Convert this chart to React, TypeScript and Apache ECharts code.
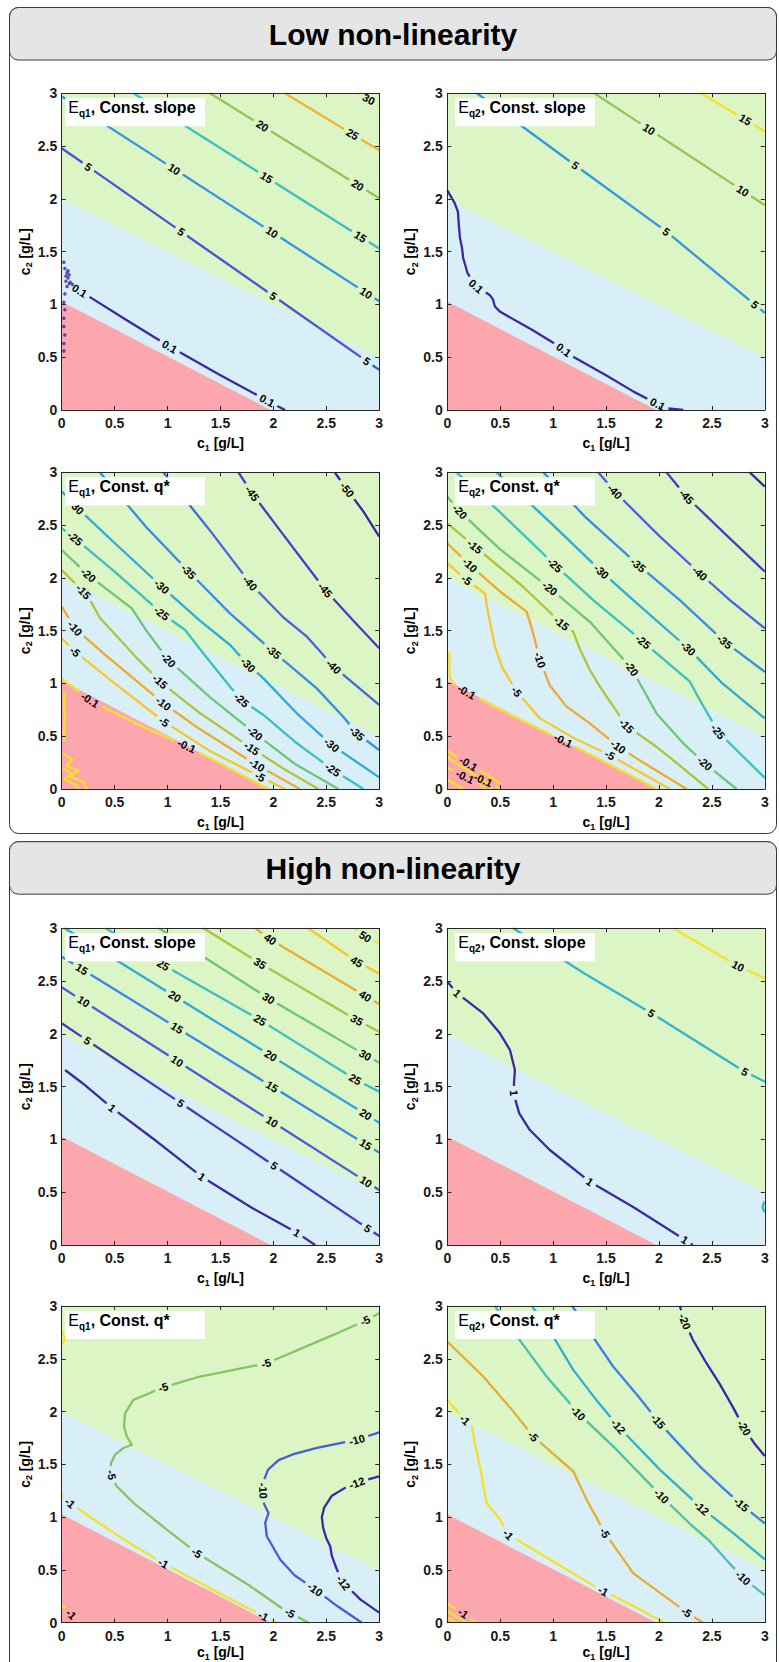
import React, { useEffect, useRef } from 'react';
import * as echarts from 'echarts';

type P = [number, number];
type Contour = { level: number; pts: P[]; labels: P[] };

const FONT = '"Liberation Sans", Arial, Helvetica, sans-serif';

// ---------- texts ----------
const PANEL_TITLES = ['Low non-linearity', 'High non-linearity'];
const PLOT_SUBS = ['q1', 'q2', 'q1', 'q2', 'q1', 'q2', 'q1', 'q2'];
const PLOT_TAILS = [', Const. slope', ', Const. slope', ', Const. q*', ', Const. q*', ', Const. slope', ', Const. slope', ', Const. q*', ', Const. q*'];
const X_LABEL_PARTS = ['c', '1', ' [g/L]'];
const Y_LABEL_PARTS = ['c', '2', ' [g/L]'];
const TICK_VALUES = [0, 0.5, 1, 1.5, 2, 2.5, 3];
const TICK_LABELS = ['0', '0.5', '1', '1.5', '2', '2.5', '3'];

// ---------- background regions (c1, c2) ----------
const REGION_PINK: P[] = [[0, 0], [0, 1.03], [1.98, 0]];
const REGION_BLUE: P[] = [[0, 1.03], [0, 2.0], [3, 0.5], [3, 0], [1.98, 0]];
const REGION_GREEN: P[] = [[0, 2.0], [0, 3], [3, 3], [3, 0.5]];

// ---------- Low non-linearity ----------
const P1_CONTOURS: Contour[] = [
  { level: 0.1, pts: [[0.06, 1.2], [0.17, 1.13], [0.6, 0.86], [1.02, 0.6], [1.5, 0.33], [1.94, 0.09], [2.11, 0]], labels: [[0.17, 1.13], [1.02, 0.6], [1.94, 0.09]] },
  { level: 5, pts: [[0, 2.48], [1.5, 1.43], [3, 0.38]], labels: [[0.25, 2.3], [1.13, 1.69], [2.0, 1.08], [2.88, 0.46]] },
  { level: 10, pts: [[0, 2.97], [1.5, 2.0], [3, 1.03]], labels: [[1.056, 2.27], [1.99, 1.69], [2.87, 1.1]] },
  { level: 15, pts: [[0.68, 3], [3, 1.53]], labels: [[1.94, 2.21], [2.82, 1.64]] },
  { level: 20, pts: [[1.4, 3], [3, 2.005]], labels: [[1.89, 2.68], [2.79, 2.12]] },
  { level: 25, pts: [[2.11, 3], [3, 2.46]], labels: [[2.74, 2.6]] },
  { level: 30, pts: [[2.8, 3], [3, 2.89]], labels: [[2.9, 2.94]] },
];
const P1_DOTS: P[] = [[0.02, 0.56], [0.02, 0.63], [0.03, 0.71], [0.02, 0.79], [0.02, 0.87], [0.03, 0.95], [0.02, 1.02], [0.03, 1.1], [0.05, 1.17], [0.04, 1.22], [0.06, 1.25], [0.08, 1.21], [0.1, 1.19], [0.05, 1.3], [0.03, 1.34], [0.02, 1.4], [0.07, 1.28], [0.04, 1.27], [0.06, 1.32]];

const P2_CONTOURS: Contour[] = [
  { level: 0.1, pts: [[0, 2.08], [0.07, 1.96], [0.1, 1.88], [0.11, 1.74], [0.12, 1.63], [0.14, 1.53], [0.15, 1.44], [0.19, 1.3], [0.26, 1.18], [0.4, 1.09], [0.43, 1.05], [0.45, 0.98], [0.5, 0.93], [0.8, 0.76], [1.06, 0.6], [1.19, 0.505], [1.5, 0.33], [1.76, 0.174], [1.91, 0.095], [2.07, 0.016], [2.23, 0]], labels: [[0.27, 1.17], [1.1, 0.57], [1.99, 0.06]] },
  { level: 5, pts: [[0.28, 3], [1.22, 2.31], [2.07, 1.69], [3, 0.92]], labels: [[1.22, 2.33], [2.07, 1.69], [2.9, 0.99]] },
  { level: 10, pts: [[1.39, 3], [3, 1.94]], labels: [[1.9, 2.65], [2.78, 2.06]] },
  { level: 15, pts: [[2.4, 3], [3, 2.64]], labels: [[2.81, 2.74]] },
];

const P3_CONTOURS: Contour[] = [
  { level: -50, pts: [[2.58, 3], [2.7, 2.83], [2.85, 2.63], [3, 2.39]], labels: [[2.69, 2.83]] },
  { level: -45, pts: [[1.67, 3], [1.8, 2.8], [2.1, 2.4], [2.49, 1.885], [2.75, 1.6], [3, 1.333]], labels: [[1.8, 2.8], [2.49, 1.885]] },
  { level: -40, pts: [[0.96, 3], [1.4, 2.45], [1.78, 1.95], [2.1, 1.62], [2.32, 1.44], [2.57, 1.159], [3, 0.796]], labels: [[1.78, 1.95], [2.57, 1.159]] },
  { level: -35, pts: [[0.36, 3], [0.8, 2.48], [1.2, 2.06], [1.59, 1.664], [2.0, 1.3], [2.41, 0.953], [2.66, 0.685], [2.79, 0.527], [3, 0.369]], labels: [[1.2, 2.06], [2.0, 1.3], [2.79, 0.527]] },
  { level: -30, pts: [[0, 2.82], [0.14, 2.67], [0.5, 2.33], [0.945, 1.917], [1.3, 1.6], [1.591, 1.364], [1.764, 1.174], [1.906, 1.048], [2.221, 0.717], [2.552, 0.417], [3, 0.11]], labels: [[0.14, 2.67], [0.945, 1.917], [1.765, 1.18], [2.553, 0.42]] },
  { level: -25, pts: [[0, 2.47], [0.126, 2.374], [0.5, 2.06], [0.945, 1.664], [1.166, 1.506], [1.35, 1.27], [1.591, 0.969], [1.701, 0.843], [1.906, 0.701], [2.2, 0.45], [2.567, 0.18], [2.851, 0]], labels: [[0.126, 2.374], [0.945, 1.664], [1.7, 0.843], [2.567, 0.19]] },
  { level: -20, pts: [[0, 2.264], [0.252, 2.027], [0.662, 1.711], [0.8, 1.5], [1.008, 1.222], [1.4, 0.87], [1.591, 0.717], [1.827, 0.527], [2.2, 0.24], [2.614, 0]], labels: [[0.252, 2.027], [1.008, 1.222], [1.827, 0.527]] },
  { level: -15, pts: [[0, 2.075], [0.205, 1.869], [0.268, 1.79], [0.362, 1.62], [0.5, 1.47], [0.7, 1.25], [0.93, 1.017], [1.308, 0.717], [1.796, 0.385], [2.1, 0.19], [2.425, 0]], labels: [[0.205, 1.869], [0.93, 1.017], [1.796, 0.385]] },
  { level: -10, pts: [[0, 1.727], [0.126, 1.522], [0.4, 1.28], [0.961, 0.811], [1.3, 0.57], [1.844, 0.227], [2.25, 0]], labels: [[0.126, 1.522], [0.961, 0.811], [1.844, 0.227]] },
  { level: -5, pts: [[0, 1.427], [0.126, 1.301], [0.5, 1.0], [0.968, 0.638], [1.4, 0.36], [1.875, 0.117], [2.11, 0]], labels: [[0.126, 1.301], [0.968, 0.638], [1.875, 0.117]] },
  { level: -0.1, pts: [[0, 1.048], [0.268, 0.843], [0.7, 0.62], [1.182, 0.407], [1.5, 0.24], [1.953, 0]], labels: [[0.268, 0.843], [1.182, 0.407]] },
];
const P3_EXTRA: Contour[] = [
  { level: -0.1, pts: [[0.025, 0.92], [0.02, 0.8], [0.03, 0.68], [0.02, 0.55], [0.025, 0.45]], labels: [] },
  { level: -0.1, pts: [[0.01, 0.34], [0.1, 0.28], [0.04, 0.22], [0.16, 0.17], [0.07, 0.12], [0.2, 0.07], [0.24, 0]], labels: [] },
  { level: -0.1, pts: [[0.01, 0.2], [0.09, 0.15], [0.03, 0.09], [0.13, 0.04], [0.16, 0]], labels: [] },
];

const P4_CONTOURS: Contour[] = [
  { level: -50, pts: [[2.858, 3], [3, 2.864]], labels: [] },
  { level: -45, pts: [[2.071, 3], [2.26, 2.769], [2.6, 2.44], [3, 2.059]], labels: [[2.26, 2.769]] },
  { level: -40, pts: [[1.426, 3], [1.583, 2.817], [2.0, 2.4], [2.386, 2.043], [2.67, 1.79], [3, 1.522]], labels: [[1.583, 2.817], [2.386, 2.043]] },
  { level: -35, pts: [[0.907, 3], [1.3, 2.58], [1.804, 2.122], [2.197, 1.79], [2.62, 1.395], [3, 1.11]], labels: [[1.804, 2.122], [2.62, 1.395]] },
  { level: -30, pts: [[0.466, 3], [1.0, 2.5], [1.457, 2.059], [1.757, 1.79], [2.276, 1.332], [2.6, 1.0], [3, 0.669]], labels: [[1.457, 2.059], [2.276, 1.332]] },
  { level: -25, pts: [[0.088, 3], [0.5, 2.62], [1.017, 2.122], [1.379, 1.79], [1.851, 1.395], [2.292, 1.016], [2.386, 0.843], [2.559, 0.543], [2.701, 0.4], [3, 0.105]], labels: [[1.017, 2.122], [1.851, 1.395], [2.559, 0.543]] },
  { level: -20, pts: [[0, 2.769], [0.12, 2.627], [0.5, 2.27], [0.969, 1.901], [1.347, 1.584], [1.6, 1.3], [1.741, 1.143], [1.82, 1.0], [1.977, 0.716], [2.229, 0.433], [2.433, 0.243], [2.733, 0]], labels: [[0.12, 2.627], [0.969, 1.901], [1.741, 1.143], [2.433, 0.243]] },
  { level: -15, pts: [[0, 2.517], [0.261, 2.296], [0.7, 1.93], [1.08, 1.569], [1.19, 1.49], [1.25, 1.33], [1.347, 1.127], [1.442, 0.969], [1.694, 0.597], [1.977, 0.4], [2.2, 0.22], [2.465, 0]], labels: [[0.261, 2.296], [1.08, 1.569], [1.694, 0.597]] },
  { level: -10, pts: [[0, 2.327], [0.214, 2.122], [0.5, 1.87], [0.749, 1.68], [0.79, 1.55], [0.828, 1.411], [0.875, 1.222], [0.969, 0.98], [1.127, 0.78], [1.347, 0.622], [1.615, 0.4], [1.9, 0.22], [2.261, 0]], labels: [[0.214, 2.122], [0.875, 1.222], [1.615, 0.4]] },
  { level: -5, pts: [[0, 2.138], [0.183, 1.98], [0.356, 1.853], [0.37, 1.75], [0.387, 1.664], [0.42, 1.5], [0.45, 1.348], [0.52, 1.15], [0.655, 0.922], [0.875, 0.669], [1.2, 0.48], [1.536, 0.322], [1.8, 0.17], [2.103, 0]], labels: [[0.183, 1.98], [0.655, 0.922], [1.536, 0.322]] },
  { level: -0.1, pts: [[0.019, 1.3], [0.02, 1.15], [0.025, 1.05], [0.06, 1.0], [0.183, 0.92], [0.6, 0.7], [1.095, 0.46], [1.347, 0.33], [1.977, 0]], labels: [[0.183, 0.92], [1.095, 0.46]] },
];
const P4_EXTRA: Contour[] = [
  { level: -0.1, pts: [[0, 0.36], [0.2, 0.24], [0.4, 0.12], [0.5, 0.05]], labels: [[0.2, 0.24]] },
  { level: -0.1, pts: [[0, 0.3], [0.25, 0.14], [0.38, 0.05], [0.42, 0]], labels: [] },
  { level: -0.1, pts: [[0, 0.2], [0.167, 0.117], [0.3, 0.05], [0.36, 0]], labels: [[0.167, 0.117]] },
  { level: -0.1, pts: [[0.25, 0.12], [0.34, 0.085], [0.45, 0.03], [0.5, 0]], labels: [[0.34, 0.085]] },
  { level: -0.1, pts: [[0, 0.09], [0.1, 0.03], [0.15, 0]], labels: [] },
];

// ---------- High non-linearity ----------
const P5_CONTOURS: Contour[] = [
  { level: 1, pts: [[0.032, 1.658], [0.2, 1.53], [0.473, 1.3], [0.9, 0.98], [1.324, 0.647], [1.8, 0.35], [2.222, 0.117], [2.395, 0]], labels: [[0.473, 1.295], [1.324, 0.647], [2.222, 0.117]] },
  { level: 5, pts: [[0, 2.1], [1.5, 1.093], [3, 0.085]], labels: [[0.243, 1.936], [1.119, 1.336], [2.001, 0.742], [2.884, 0.148]] },
  { level: 10, pts: [[0, 2.441], [3, 0.521]], labels: [[0.205, 2.305], [1.087, 1.737], [1.986, 1.168], [2.868, 0.59]] },
  { level: 15, pts: [[0, 2.731], [3, 0.875]], labels: [[0.189, 2.611], [1.087, 2.052], [1.986, 1.5], [2.868, 0.947]] },
  { level: 20, pts: [[0.03, 3], [3, 1.159]], labels: [[1.056, 2.337], [1.97, 1.784], [2.868, 1.231]] },
  { level: 25, pts: [[0.42, 3], [0.961, 2.653], [1.875, 2.131], [2.773, 1.569], [3, 1.453]], labels: [[0.961, 2.653], [1.875, 2.131], [2.773, 1.569]] },
  { level: 30, pts: [[0.92, 3], [1.954, 2.337], [2.868, 1.8], [3, 1.727]], labels: [[1.954, 2.337], [2.868, 1.8]] },
  { level: 35, pts: [[1.34, 3], [1.875, 2.668], [2.789, 2.131], [3, 2.021]], labels: [[1.875, 2.668], [2.789, 2.131]] },
  { level: 40, pts: [[1.83, 3], [1.97, 2.896], [2.868, 2.359], [3, 2.283]], labels: [[1.97, 2.896], [2.868, 2.359]] },
  { level: 45, pts: [[2.33, 3], [2.789, 2.684], [3, 2.573]], labels: [[2.789, 2.684]] },
  { level: 50, pts: [[2.77, 3], [2.868, 2.921], [3, 2.858]], labels: [[2.868, 2.921]] },
];

const P6_CONTOURS: Contour[] = [
  { level: 1, pts: [[0, 2.495], [0.094, 2.384], [0.34, 2.194], [0.497, 2.005], [0.592, 1.847], [0.639, 1.658], [0.63, 1.531], [0.63, 1.421], [0.68, 1.247], [0.78, 1.089], [0.969, 0.9], [1.347, 0.6], [1.756, 0.36], [1.977, 0.221], [2.244, 0.05], [2.32, 0]], labels: [[0.094, 2.384], [0.63, 1.44], [1.347, 0.6], [2.244, 0.05]] },
  { level: 5, pts: [[0.623, 3], [1.3, 2.57], [1.93, 2.195], [2.811, 1.642], [3, 1.547]], labels: [[1.93, 2.195], [2.811, 1.642]] },
  { level: 10, pts: [[2.134, 3], [2.748, 2.643], [3, 2.526]], labels: [[2.748, 2.643]] },
];
const P6_EXTRA: Contour[] = [
  { level: 5, pts: [[3, 0.41], [2.985, 0.385], [2.98, 0.36], [2.985, 0.335], [3, 0.31]], labels: [] },
];

const P7_CONTOURS: Contour[] = [
  { level: -12, pts: [[3, 1.387], [2.85, 1.345], [2.789, 1.324], [2.68, 1.28], [2.55, 1.2], [2.48, 1.09], [2.458, 1.0], [2.47, 0.9], [2.5, 0.8], [2.537, 0.725], [2.553, 0.63], [2.6, 0.504], [2.663, 0.378], [2.821, 0.221], [3, 0.095]], labels: [[2.789, 1.324], [2.663, 0.378]] },
  { level: -10, pts: [[3, 1.803], [2.789, 1.733], [2.411, 1.655], [2.2, 1.6], [2.05, 1.54], [1.95, 1.45], [1.9, 1.324], [1.907, 1.2], [1.907, 1.135], [1.954, 1.04], [1.923, 0.945], [1.938, 0.819], [2.064, 0.599], [2.2, 0.45], [2.395, 0.315], [2.6, 0.16], [2.836, 0]], labels: [[2.789, 1.733], [1.905, 1.25], [2.395, 0.315]] },
  { level: -5, pts: [[3, 2.931], [2.868, 2.862], [2.568, 2.726], [1.938, 2.458], [1.308, 2.332], [0.93, 2.222], [0.8, 2.16], [0.678, 2.112], [0.599, 1.985], [0.589, 1.859], [0.615, 1.765], [0.662, 1.686], [0.583, 1.655], [0.504, 1.592], [0.466, 1.513], [0.463, 1.45], [0.48, 1.36], [0.52, 1.292], [0.678, 1.135], [0.993, 0.882], [1.276, 0.662], [1.781, 0.347], [2.096, 0.126], [2.332, 0]], labels: [[2.868, 2.862], [1.932, 2.452], [0.961, 2.222], [0.47, 1.4], [1.276, 0.662], [2.159, 0.095]] },
  { level: -1, pts: [[0, 1.21], [0.079, 1.135], [0.3, 0.98], [0.6, 0.78], [0.93, 0.58], [1.3, 0.38], [1.6, 0.22], [1.907, 0.063], [2.033, 0]], labels: [[0.079, 1.135], [0.961, 0.56], [1.907, 0.063]] },
];
const P7_EXTRA: Contour[] = [
  { level: -1, pts: [[0, 0.17], [0.06, 0.11], [0.12, 0.05], [0.16, 0]], labels: [[0.09, 0.08]] },
  { level: -1, pts: [[0.005, 2.76], [0.03, 2.69], [0.01, 2.64]], labels: [] },
];

const P8_CONTOURS: Contour[] = [
  { level: -20, pts: [[2.197, 3], [2.244, 2.852], [2.32, 2.68], [2.449, 2.458], [2.575, 2.26], [2.7, 2.04], [2.795, 1.86], [2.9, 1.7], [3, 1.58]], labels: [[2.244, 2.852], [2.795, 1.84]] },
  { level: -15, pts: [[1.18, 3], [1.331, 2.773], [1.567, 2.427], [1.8, 2.15], [1.992, 1.907], [2.2, 1.68], [2.386, 1.481], [2.6, 1.28], [2.779, 1.119], [3, 0.94]], labels: [[1.992, 1.907], [2.779, 1.119]] },
  { level: -12, pts: [[0.8, 3], [1.001, 2.71], [1.19, 2.395], [1.4, 2.12], [1.615, 1.859], [2.008, 1.45], [2.402, 1.087], [2.7, 0.85], [3, 0.6]], labels: [[1.615, 1.859], [2.402, 1.087]] },
  { level: -10, pts: [[0.45, 3], [0.67, 2.695], [0.938, 2.332], [1.237, 1.985], [1.599, 1.639], [2.024, 1.198], [2.3, 0.93], [2.48, 0.772], [2.65, 0.58], [2.795, 0.425], [3, 0.26]], labels: [[1.237, 1.985], [2.024, 1.198], [2.795, 0.425]] },
  { level: -5, pts: [[0, 2.663], [0.34, 2.332], [0.6, 2.03], [0.812, 1.765], [1.19, 1.434], [1.316, 1.166], [1.489, 0.851], [1.756, 0.47], [2.0, 0.29], [2.26, 0.1], [2.417, 0]], labels: [[0.812, 1.765], [1.489, 0.851], [2.26, 0.1]] },
  { level: -1, pts: [[0, 2.112], [0.167, 1.922], [0.23, 1.875], [0.26, 1.7], [0.308, 1.481], [0.371, 1.135], [0.497, 0.977], [0.576, 0.835], [0.812, 0.693], [1.127, 0.504], [1.473, 0.299], [1.756, 0.158], [2.055, 0]], labels: [[0.167, 1.922], [0.576, 0.835], [1.473, 0.299]] },
];
const P8_EXTRA: Contour[] = [
  { level: -1, pts: [[0, 0.18], [0.15, 0.09], [0.27, 0]], labels: [[0.15, 0.09]] },
  { level: -1, pts: [[0, 0.11], [0.1, 0.05], [0.18, 0]], labels: [] },
  { level: -1, pts: [[0, 0.05], [0.08, 0]], labels: [] },
];

const PLOTS: { contours: Contour[]; extra: Contour[]; dots: P[] }[] = [
  { contours: P1_CONTOURS, extra: [], dots: P1_DOTS },
  { contours: P2_CONTOURS, extra: [], dots: [] },
  { contours: P3_CONTOURS, extra: P3_EXTRA, dots: [] },
  { contours: P4_CONTOURS, extra: P4_EXTRA, dots: [] },
  { contours: P5_CONTOURS, extra: [], dots: [] },
  { contours: P6_CONTOURS, extra: P6_EXTRA, dots: [] },
  { contours: P7_CONTOURS, extra: P7_EXTRA, dots: [] },
  { contours: P8_CONTOURS, extra: P8_EXTRA, dots: [] },
];

// ---------- layout & style ----------
const GRID_LEFT = [61.7, 447.3];
const GRID_TOP = [93.3, 472.3, 928.3, 1306];
const GRID_W = 317.5;
const GRID_H = 316.7;
const XLABEL_DY = [33, 33, 33, 29.5];
const PANEL_X = 9.5;
const PANEL_W = 767;
const PANEL_TOP = [7.5, 841.7];
const PANEL_H = [826, 900];
const HEADER_H = 52.5;
const LEGEND_DX = [3.3, 7.7];
const REGION_COLORS = ['#fca6ae', '#d8eff7', '#dcf5c5'];
const AXIS_COLOR = '#262626';
const LINE_WIDTH = 2.3;
const CMAP_STOPS: [number, string][] = [
  [0, '#3e26a8'], [0.12, '#4a3fd0'], [0.25, '#3f7ce8'], [0.375, '#2aa6dc'], [0.5, '#3cbfc0'],
  [0.6, '#6cc57a'], [0.7, '#b0c23c'], [0.8, '#eeaa30'], [0.9, '#f8c72c'], [1, '#f5e02a'],
];

function hexRgb(h: string) {
  return [parseInt(h.slice(1, 3), 16), parseInt(h.slice(3, 5), 16), parseInt(h.slice(5, 7), 16)];
}
function cmap(t: number): string {
  t = Math.max(0, Math.min(1, t));
  for (let i = 1; i < CMAP_STOPS.length; i++) {
    if (t <= CMAP_STOPS[i][0]) {
      const [t0, c0] = CMAP_STOPS[i - 1];
      const [t1, c1] = CMAP_STOPS[i];
      const f = (t - t0) / (t1 - t0);
      const a = hexRgb(c0), b = hexRgb(c1);
      return `rgb(${a.map((v, k) => Math.round(v + f * (b[k] - v))).join(',')})`;
    }
  }
  return CMAP_STOPS[CMAP_STOPS.length - 1][1];
}

let _ctx: CanvasRenderingContext2D | null = null;
function textWidth(text: string, font: string) {
  if (!_ctx) _ctx = document.createElement('canvas').getContext('2d');
  if (!_ctx) return text.length * 7;
  _ctx.font = font;
  return _ctx.measureText(text).width;
}

function pointAt(pts: P[], cl: number[], s: number): P {
  if (s <= 0) return pts[0];
  for (let i = 1; i < cl.length; i++) {
    if (cl[i] >= s) {
      const d = cl[i] - cl[i - 1] || 1;
      const f = (s - cl[i - 1]) / d;
      return [pts[i - 1][0] + f * (pts[i][0] - pts[i - 1][0]), pts[i - 1][1] + f * (pts[i][1] - pts[i - 1][1])];
    }
  }
  return pts[pts.length - 1];
}
function project(pts: P[], cl: number[], q: P): number {
  let best = Infinity, bs = 0;
  for (let i = 1; i < pts.length; i++) {
    const a = pts[i - 1], b = pts[i];
    const vx = b[0] - a[0], vy = b[1] - a[1];
    const L2 = vx * vx + vy * vy;
    let f = L2 ? ((q[0] - a[0]) * vx + (q[1] - a[1]) * vy) / L2 : 0;
    f = Math.max(0, Math.min(1, f));
    const px = a[0] + f * vx, py = a[1] + f * vy;
    const d = (px - q[0]) ** 2 + (py - q[1]) ** 2;
    if (d < best) { best = d; bs = cl[i - 1] + f * (cl[i] - cl[i - 1]); }
  }
  return bs;
}

function processContour(c: Contour, pxu: number, font: string) {
  const pts = c.pts;
  const cl = [0];
  for (let i = 1; i < pts.length; i++) cl.push(cl[i - 1] + Math.hypot(pts[i][0] - pts[i - 1][0], pts[i][1] - pts[i - 1][1]));
  const total = cl[cl.length - 1];
  const text = String(c.level);
  const half = (textWidth(text, font) / 2 + 4) / pxu;
  const cuts = c.labels.map(q => project(pts, cl, q)).sort((a, b) => a - b);
  const segs: P[][] = [];
  const keep = (a: number, b: number) => {
    if (b - a < 1e-4) return;
    const seg: P[] = [pointAt(pts, cl, a)];
    for (let i = 0; i < pts.length; i++) if (cl[i] > a && cl[i] < b) seg.push(pts[i]);
    seg.push(pointAt(pts, cl, b));
    segs.push(seg);
  };
  let start = 0;
  cuts.forEach(s0 => {
    const a = s0 - half, b = s0 + half;
    if (a > start) keep(start, a);
    start = Math.max(start, b);
  });
  if (start < total) keep(start, total);
  const labs = cuts.map(s0 => {
    const e = 0.04;
    const p = pointAt(pts, cl, s0);
    const p0 = pointAt(pts, cl, Math.max(0, s0 - e));
    const p1 = pointAt(pts, cl, Math.min(total, s0 + e));
    return { pos: p, dir: [p1[0] - p0[0], p1[1] - p0[1]] as P, text };
  });
  return { segs, labs };
}

function textEl(x: number, y: number, text: string, font: string, align = 'left', extra: any = {}) {
  return {
    type: 'text', x, y, silent: true, z: 100,
    style: { text, font, fill: '#000', textAlign: align, align, textVerticalAlign: 'middle', verticalAlign: 'middle' },
    ...extra,
  };
}

// label with a subscript, centered on (0,0) in local coordinates
function subLabelChildren(parts: string[], mainFont: string, subFont: string) {
  const w0 = textWidth(parts[0], mainFont);
  const w1 = textWidth(parts[1], subFont);
  const w2 = textWidth(parts[2], mainFont);
  const x0 = -(w0 + w1 + w2) / 2;
  return [
    textEl(x0, 0, parts[0], mainFont),
    textEl(x0 + w0, 4.6, parts[1], subFont),
    textEl(x0 + w0 + w1, 0, parts[2], mainFont),
  ];
}

function buildOption() {
  const grid: any[] = [], xAxis: any[] = [], yAxis: any[] = [], series: any[] = [], elements: any[] = [];
  const pxu = GRID_W / 3;
  const labelFont = `bold 11px ${FONT}`;
  const axisLine = { color: AXIS_COLOR, width: 1 };
  const fmt = (v: number) => {
    const i = TICK_VALUES.findIndex(t => Math.abs(t - v) < 1e-9);
    return i >= 0 ? TICK_LABELS[i] : '';
  };
  const axisBase = (g: number, position: string, showLabel: boolean, margin: number) => ({
    type: 'value', gridIndex: g, position, min: 0, max: 3, interval: 0.5, z: 10,
    axisLine: { show: true, onZero: false, lineStyle: axisLine },
    axisTick: { show: true, inside: true, length: 4, lineStyle: axisLine },
    axisLabel: {
      show: showLabel, margin, color: '#1a1a1a', fontFamily: FONT, fontSize: 14, fontWeight: 'bold',
      formatter: fmt, showMinLabel: true, showMaxLabel: true,
    },
    splitLine: { show: false },
  });

  // panels
  PANEL_TITLES.forEach((title, k) => {
    elements.push({ type: 'rect', z: -20, silent: true, shape: { x: PANEL_X, y: PANEL_TOP[k], width: PANEL_W, height: PANEL_H[k], r: 9 }, style: { fill: '#ffffff', stroke: '#3a3a3a', lineWidth: 1 } });
    elements.push({ type: 'rect', z: -19, silent: true, shape: { x: PANEL_X, y: PANEL_TOP[k], width: PANEL_W, height: HEADER_H, r: 9 }, style: { fill: '#e5e5e5', stroke: '#3a3a3a', lineWidth: 1 } });
    elements.push(textEl(PANEL_X + PANEL_W / 2, PANEL_TOP[k] + HEADER_H / 2 + 1, title, `bold 30px ${FONT}`, 'center'));
  });

  PLOTS.forEach((plot, g) => {
    const row = Math.floor(g / 2), col = g % 2;
    const left = GRID_LEFT[col], top = GRID_TOP[row];
    grid.push({ left, top, width: GRID_W, height: GRID_H, show: false, containLabel: false });
    xAxis.push(axisBase(g, 'bottom', true, 6));
    xAxis.push(axisBase(g, 'top', false, 6));
    yAxis.push(axisBase(g, 'left', true, 4.5));
    yAxis.push(axisBase(g, 'right', false, 6));
    const xi = 2 * g, yi = 2 * g;

    const regions: [P[], string][] = [[REGION_PINK, REGION_COLORS[0]], [REGION_BLUE, REGION_COLORS[1]], [REGION_GREEN, REGION_COLORS[2]]];
    series.push({
      type: 'custom', xAxisIndex: xi, yAxisIndex: yi, z: 1, silent: true, data: [[0, 0]],
      renderItem: (_p: any, api: any) => ({
        type: 'group',
        children: regions.map(([pts, fill]) => ({
          type: 'polygon', shape: { points: pts.map(p => api.coord(p)) }, style: { fill, stroke: fill, lineWidth: 0.5 },
        })),
      }),
    });

    const levels = plot.contours.map(c => c.level);
    const lo = Math.min(...levels), hi = Math.max(...levels);
    const labItems: number[][] = [];
    const labTexts: string[] = [];
    [...plot.contours, ...plot.extra].forEach(c => {
      const color = cmap((c.level - lo) / (hi - lo));
      const { segs, labs } = processContour(c, pxu, labelFont);
      segs.forEach(seg => {
        series.push({
          type: 'line', xAxisIndex: xi, yAxisIndex: yi, data: seg, z: 3, silent: true,
          showSymbol: false, symbol: 'none', clip: true,
          lineStyle: { color, width: LINE_WIDTH, cap: 'butt', join: 'round' },
          emphasis: { disabled: true },
        });
      });
      labs.forEach(l => {
        labItems.push([l.pos[0], l.pos[1], l.dir[0], l.dir[1]]);
        labTexts.push(l.text);
      });
    });
    if (plot.dots.length) {
      series.push({
        type: 'scatter', xAxisIndex: xi, yAxisIndex: yi, data: plot.dots, z: 3, silent: true,
        symbolSize: 3.5, itemStyle: { color: cmap(0) },
      });
    }
    series.push({
      type: 'custom', xAxisIndex: xi, yAxisIndex: yi, z: 6, silent: true, data: labItems,
      renderItem: (params: any, api: any) => {
        const x = api.value(0), y = api.value(1), dx = api.value(2), dy = api.value(3);
        const p0 = api.coord([x, y]);
        const p1 = api.coord([x + dx, y + dy]);
        let a = Math.atan2(-(p1[1] - p0[1]), p1[0] - p0[0]);
        if (a > Math.PI / 2) a -= Math.PI;
        if (a < -Math.PI / 2) a += Math.PI;
        return {
          type: 'text', x: p0[0], y: p0[1], rotation: a,
          style: { text: labTexts[params.dataIndex], font: labelFont, fill: '#000', align: 'center', textAlign: 'center', verticalAlign: 'middle', textVerticalAlign: 'middle' },
        };
      },
    });

    // legend box
    const bx = left + LEGEND_DX[col], by = top + 5;
    elements.push({ type: 'rect', z: 90, silent: true, shape: { x: bx, y: by, width: 140, height: 28 }, style: { fill: '#ffffff' } });
    const fE = `16px ${FONT}`, fSub = `bold 10px ${FONT}`, fMain = `bold 16px ${FONT}`;
    const wE = textWidth('E', fE), wS = textWidth(PLOT_SUBS[g], fSub);
    elements.push(textEl(bx + 3.3, by + 9.6, 'E', fE));
    elements.push(textEl(bx + 3.3 + wE, by + 15.6, PLOT_SUBS[g], fSub));
    elements.push(textEl(bx + 3.3 + wE + wS, by + 9.6, PLOT_TAILS[g], fMain));

    // axis titles
    const mainF = `bold 14px ${FONT}`, subF = `bold 9px ${FONT}`;
    elements.push({ type: 'group', x: left + GRID_W / 2, y: top + GRID_H + XLABEL_DY[row], silent: true, children: subLabelChildren(X_LABEL_PARTS, mainF, subF) });
    elements.push({ type: 'group', x: left - 37, y: top + GRID_H / 2, rotation: Math.PI / 2, silent: true, children: subLabelChildren(Y_LABEL_PARTS, mainF, subF) });
  });

  return { animation: false, grid, xAxis, yAxis, series, graphic: { elements } };
}

export default function App() {
  const ref = useRef<HTMLDivElement>(null);
  useEffect(() => {
    if (!ref.current) return;
    const chart = echarts.init(ref.current, null, { renderer: 'svg' });
    chart.setOption(buildOption() as any);
    return () => chart.dispose();
  }, []);
  return <div ref={ref} style={{ position: 'absolute', left: 0, top: 0, width: 779, height: 1662 }} />;
}
